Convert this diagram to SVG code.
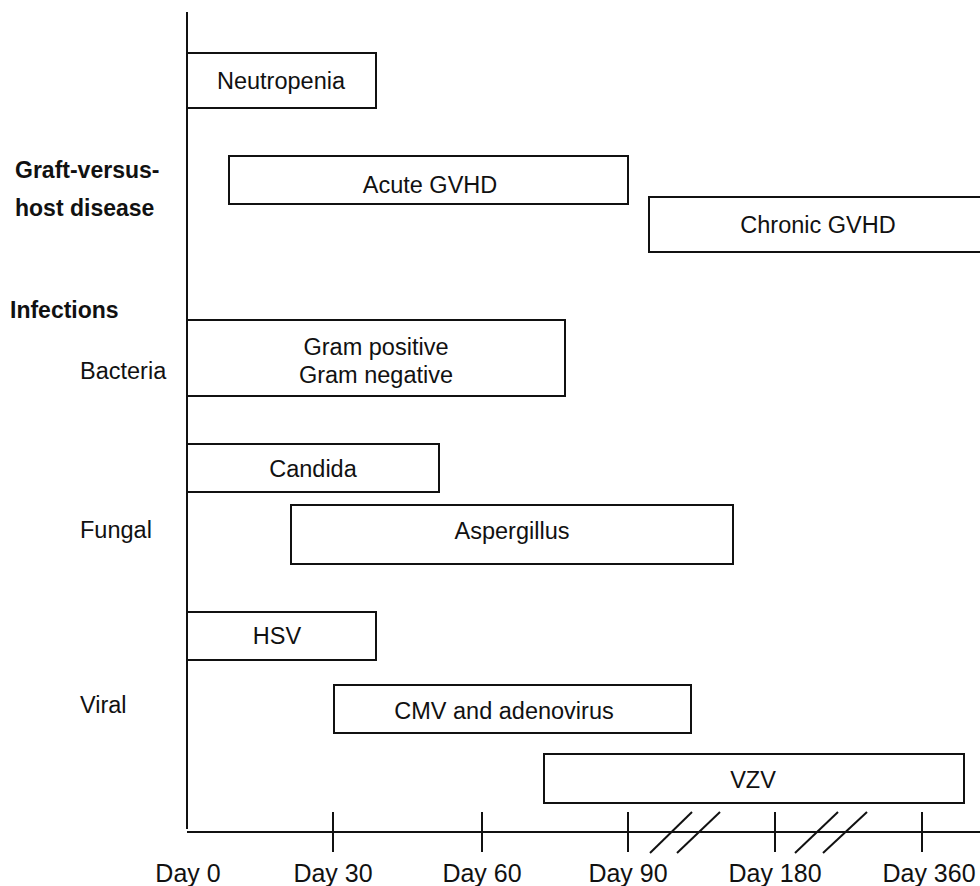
<svg xmlns="http://www.w3.org/2000/svg" width="980" height="886" viewBox="0 0 980 886">
<style>
.box{fill:#fff;stroke:#111;stroke-width:2}
.ax{stroke:#111;stroke-width:2;fill:none}
text{font-family:"Liberation Sans",Arial,sans-serif;fill:#111}
.bl{font-size:23.5px;text-anchor:middle}
.lb{font-size:23.5px}
.hd{font-size:23px;font-weight:bold}
.dy{font-size:25px;text-anchor:middle}
</style>
<rect width="980" height="886" fill="#fff"/>
<g id="axes" class="ax">
<line x1="187" y1="12" x2="187" y2="829"/>
<line x1="187" y1="832" x2="980" y2="832"/>
<line x1="333" y1="812" x2="333" y2="852"/>
<line x1="482" y1="812" x2="482" y2="852"/>
<line x1="628" y1="812" x2="628" y2="852"/>
<line x1="775" y1="812" x2="775" y2="852"/>
<line x1="922" y1="812" x2="922" y2="852"/>
<line x1="650" y1="853" x2="692" y2="812"/>
<line x1="677" y1="853" x2="720" y2="812"/>
<line x1="795" y1="853" x2="838" y2="812"/>
<line x1="823" y1="853" x2="867" y2="812"/>
</g>
<g id="labels">
<text class="hd" x="15" y="178">Graft-versus-</text>
<text class="hd" x="15" y="216">host disease</text>
<text class="hd" x="10" y="318">Infections</text>
<text class="lb" x="80" y="379">Bacteria</text>
<text class="lb" x="80" y="538">Fungal</text>
<text class="lb" x="80" y="713">Viral</text>
<text class="dy" x="188" y="882">Day 0</text>
<text class="dy" x="333" y="882">Day 30</text>
<text class="dy" x="482" y="882">Day 60</text>
<text class="dy" x="628" y="882">Day 90</text>
<text class="dy" x="775" y="882">Day 180</text>
<text class="dy" x="929" y="882">Day 360</text>
</g>
<g id="neutropenia"><rect class="box" x="187" y="53" width="189" height="55"/><text class="bl" x="281" y="89">Neutropenia</text></g>
<g id="acute-gvhd"><rect class="box" x="229" y="156" width="399" height="48"/><text class="bl" x="430" y="193">Acute GVHD</text></g>
<g id="chronic-gvhd"><rect class="box" x="649" y="197" width="340" height="55"/><text class="bl" x="818" y="233">Chronic GVHD</text></g>
<g id="bacteria"><rect class="box" x="187" y="320" width="378" height="76"/><text class="bl" x="376" y="355">Gram positive</text><text class="bl" x="376" y="383">Gram negative</text></g>
<g id="candida"><rect class="box" x="187" y="444" width="252" height="48"/><text class="bl" x="313" y="477">Candida</text></g>
<g id="aspergillus"><rect class="box" x="291" y="505" width="442" height="59"/><text class="bl" x="512" y="539">Aspergillus</text></g>
<g id="hsv"><rect class="box" x="187" y="612" width="189" height="48"/><text class="bl" x="277" y="644">HSV</text></g>
<g id="cmv"><rect class="box" x="334" y="685" width="357" height="48"/><text class="bl" x="504" y="719">CMV and adenovirus</text></g>
<g id="vzv"><rect class="box" x="544" y="754" width="420" height="49"/><text class="bl" x="753" y="788">VZV</text></g>
</svg>
